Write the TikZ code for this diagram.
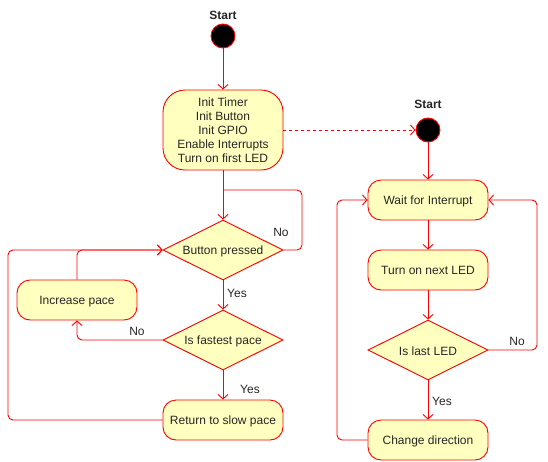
\documentclass[tikz,border=0pt]{standalone}
\usepackage{fontspec}
\setmainfont{Liberation Sans}
\usetikzlibrary{shapes.geometric,arrows.meta}
\definecolor{boxfill}{HTML}{FFFFC0}
\definecolor{linered}{HTML}{FF0000}
\begin{document}
\begin{tikzpicture}[x=1pt,y=-1pt,
  every node/.style={font=\fontsize{12}{14}\selectfont, text=black!85},
  actbox/.style={draw=linered, fill=boxfill, line width=0.9pt, rounded corners=13pt, minimum width=120pt, minimum height=40pt, align=center, inner sep=0pt, text depth=0pt},
  decbox/.style={draw=linered, fill=boxfill, line width=0.9pt, diamond, minimum width=120pt, minimum height=60pt, inner sep=0pt, aspect=2},
  startdot/.style={draw=linered, fill=black, circle, minimum size=24pt, inner sep=0pt, line width=0.9pt},
  conn/.style={draw=linered, line width=0.9pt, rounded corners=5pt, -{Straight Barb[length=4.5pt,width=10pt]}},
  plain/.style={draw=linered, line width=0.9pt, rounded corners=5pt},
  lbl/.style={font=\fontsize{12}{14}\selectfont, yshift=-1.5pt},
  startlbl/.style={font=\bfseries\fontsize{12}{14}\selectfont, yshift=-1.5pt}]
\useasboundingbox (0,0) rectangle (548,461);
% left column
\node[startlbl] (s1l) at (223,14) {Start};
\node[startdot] (s1) at (223,36) {};
\node[actbox, minimum height=80pt, rounded corners=22pt] (init) at (223,130) {Init Timer\\Init Button\\Init GPIO\\Enable Interrupts\\Turn on first LED};
\node[decbox] (bp) at (223,250) {};
\node[lbl] (bpt) at (223,250) {Button pressed};
\node[actbox] (inc) at (77,300) {Increase pace};
\node[decbox] (fp) at (223,340) {};
\node[lbl] (fpt) at (223,340) {Is fastest pace};
\node[actbox] (ret) at (223,420) {Return to slow pace};
% right column
\node[startlbl] (s2l) at (428,103) {Start};
\node[startdot] (s2) at (428,130) {};
\node[actbox] (wait) at (428,200) {Wait for Interrupt};
\node[actbox] (next) at (428,270) {Turn on next LED};
\node[decbox] (last) at (428,350) {};
\node[lbl] (lastt) at (428,350) {Is last LED};
\node[actbox] (chg) at (428,440) {Change direction};
% connectors left
\draw[conn] (s1) -- (init);
\draw[conn] (init) -- (bp);
\draw[plain] (bp.east) -- (302,250) -- (302,190) -- (223,190);
\node[lbl] (no1) at (281,231) {No};
\draw[conn] (bp) -- (fp);
\node[lbl] (yes1) at (237,292) {Yes};
\draw[conn] (fp.west) -- (77,340) -- (inc.south);
\node[lbl] (no2) at (137,330) {No};
\draw[conn] (inc.north) -- (77,250) -- (bp.west);
\draw[conn] (fp) -- (ret);
\node[lbl] (yes2) at (250,388) {Yes};
\draw[conn] (ret.west) -- (8,420) -- (8,250) -- (bp.west);
% dashed
\draw[conn, dashed, rounded corners=0pt] (init.east) -- (s2.west);
% connectors right
\draw[conn] (s2) -- (wait);
\draw[conn] (wait) -- (next);
\draw[conn] (next) -- (last);
\draw[conn] (last.east) -- (537,350) -- (537,200) -- (wait.east);
\node[lbl] (no3) at (517,340) {No};
\draw[conn] (last) -- (chg);
\node[lbl] (yes3) at (442,400) {Yes};
\draw[conn] (chg.west) -- (337,440) -- (337,200) -- (wait.west);
\end{tikzpicture}
\end{document}
